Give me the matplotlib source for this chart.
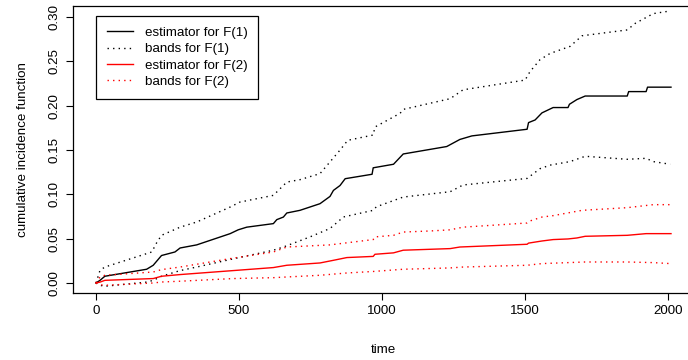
import numpy as np
import matplotlib
matplotlib.use("Agg")
import matplotlib.pyplot as plt

plt.rcParams['font.family'] = ['Liberation Sans', 'DejaVu Sans']

# estimator for F(1)
t_est1 = [0, 14, 31, 177, 200, 229, 276, 294, 352, 469, 497, 527, 620, 632, 655, 667,
          713, 783, 818, 830, 853, 871, 965, 969, 1040, 1074, 1226, 1272, 1314, 1507,
          1512, 1535, 1559, 1598, 1650, 1655, 1681, 1710, 1857, 1862, 1923, 1928, 2010]
est1 = [0, 0.003, 0.0076, 0.0155, 0.020, 0.031, 0.035, 0.0395, 0.043, 0.0557, 0.060,
        0.063, 0.067, 0.0715, 0.0744, 0.079, 0.082, 0.0895, 0.0977, 0.1045, 0.110, 0.1177,
        0.1227, 0.130, 0.134, 0.1456, 0.154, 0.162, 0.166, 0.1735, 0.181, 0.184, 0.192,
        0.198, 0.198, 0.2017, 0.207, 0.211, 0.211, 0.216, 0.216, 0.221, 0.221]

# bands for F(1)
t_up1 = [0, 14, 31, 195, 213, 229, 294, 352, 469, 503, 620, 667, 713, 783, 853, 880,
         969, 975, 1063, 1075, 1238, 1283, 1500, 1517, 1552, 1587, 1657, 1699, 1857,
         1885, 1948, 2007]
up1 = [0, 0.0143, 0.018, 0.035, 0.046, 0.0538, 0.063, 0.0688, 0.0857, 0.0913, 0.0989,
       0.1139, 0.1166, 0.1234, 0.150, 0.161, 0.167, 0.176, 0.1915, 0.196, 0.208, 0.218,
       0.229, 0.2385, 0.252, 0.259, 0.267, 0.279, 0.2856, 0.293, 0.304, 0.307]
t_lo1 = [0, 14, 31, 177, 200, 229, 294, 352, 469, 620, 655, 748, 818, 865, 969, 980,
         1074, 1238, 1283, 1507, 1552, 1587, 1657, 1710, 1857, 1923, 1948, 2007]
lo1 = [0, -0.0026, -0.0037, 0.001, 0.003, 0.0076, 0.014, 0.018, 0.0265, 0.037, 0.0406,
       0.052, 0.0615, 0.0745, 0.082, 0.086, 0.097, 0.103, 0.1106, 0.118, 0.129,
       0.133, 0.137, 0.143, 0.1396, 0.1407, 0.137, 0.134]

# estimator for F(2)
t_est2 = [0, 14, 31, 200, 229, 294, 620, 667, 783, 830, 877, 969, 975, 1040, 1074, 1238,
          1272, 1507, 1512, 1559, 1598, 1650, 1681, 1710, 1857, 1923, 2010]
est2 = [0, 0.001, 0.003, 0.005, 0.0076, 0.0095, 0.0174, 0.020, 0.0226, 0.0256, 0.0287,
        0.030, 0.0324, 0.034, 0.037, 0.0388, 0.0406, 0.0437, 0.045, 0.0474, 0.049, 0.0497,
        0.0508, 0.0527, 0.0538, 0.0557, 0.0557]

# bands for F(2)
t_up2 = [0, 14, 31, 200, 229, 294, 469, 620, 667, 818, 969, 975, 1040, 1074, 1168,
         1238, 1283, 1507, 1517, 1559, 1598, 1699, 1857, 1948, 2007]
up2 = [0, 0.0068, 0.0087, 0.0124, 0.0151, 0.018, 0.0275, 0.035, 0.0406, 0.043, 0.049,
       0.052, 0.0538, 0.0575, 0.0587, 0.060, 0.063, 0.0677, 0.070, 0.0744, 0.076, 0.082,
       0.085, 0.0884, 0.0884]
t_lo2 = [0, 14, 31, 200, 229, 294, 480, 620, 783, 877, 969, 1074, 1238, 1283, 1507,
         1559, 1710, 1857, 1948, 2007]
lo2 = [0, -0.002, -0.0026, 0, 0.0011, 0.002, 0.005, 0.006, 0.0087, 0.0113, 0.013, 0.0155,
       0.017, 0.018, 0.020, 0.0219, 0.0237, 0.0237, 0.023, 0.0219]

labels = ["estimator for F(1)", "bands for F(1)", "estimator for F(2)", "bands for F(2)"]

fs = 9.6
fig = plt.figure(figsize=(6.88, 3.6), dpi=100)
ax = fig.add_axes([73 / 688, 1 - 293 / 360, (694 - 73) / 688, (293 - 6) / 360])

dot = (0, (1, 3))
ax.plot(t_est1, est1, color="black", lw=1, label=labels[0])
ax.plot(t_up1, up1, color="black", lw=1, ls=dot, label=labels[1])
ax.plot(t_lo1, lo1, color="black", lw=1, ls=dot)
ax.plot(t_est2, est2, color="red", lw=1, label=labels[2])
ax.plot(t_up2, up2, color="red", lw=1, ls=dot, label=labels[3])
ax.plot(t_lo2, lo2, color="red", lw=1, ls=dot)

ax.set_xlim(-80.4, 2090.4)
ax.set_ylim(-0.0113, 0.3126)
ax.set_xticks([0, 500, 1000, 1500, 2000])
ax.set_yticks([0.0, 0.05, 0.10, 0.15, 0.20, 0.25, 0.30])
ax.set_yticklabels(["0.00", "0.05", "0.10", "0.15", "0.20", "0.25", "0.30"],
                   rotation=90, va="center")
ax.tick_params(direction="out", length=5, width=0.8, labelsize=fs, pad=4)
for s in ax.spines.values():
    s.set_linewidth(0.9)

ax.set_xlabel("time", fontsize=fs, labelpad=19)
ax.set_ylabel("cumulative incidence function", fontsize=fs, labelpad=14)

leg = ax.legend(loc="upper left", bbox_to_anchor=(96 / 688, 1 - 16 / 360),
                bbox_transform=fig.transFigure, borderaxespad=0, fontsize=fs,
                fancybox=False, framealpha=1, edgecolor="black",
                handlelength=2.0, handletextpad=0.85, labelspacing=0.3,
                borderpad=0.8)
leg.get_frame().set_linewidth(0.9)

fig.savefig("out.png", dpi=100)
